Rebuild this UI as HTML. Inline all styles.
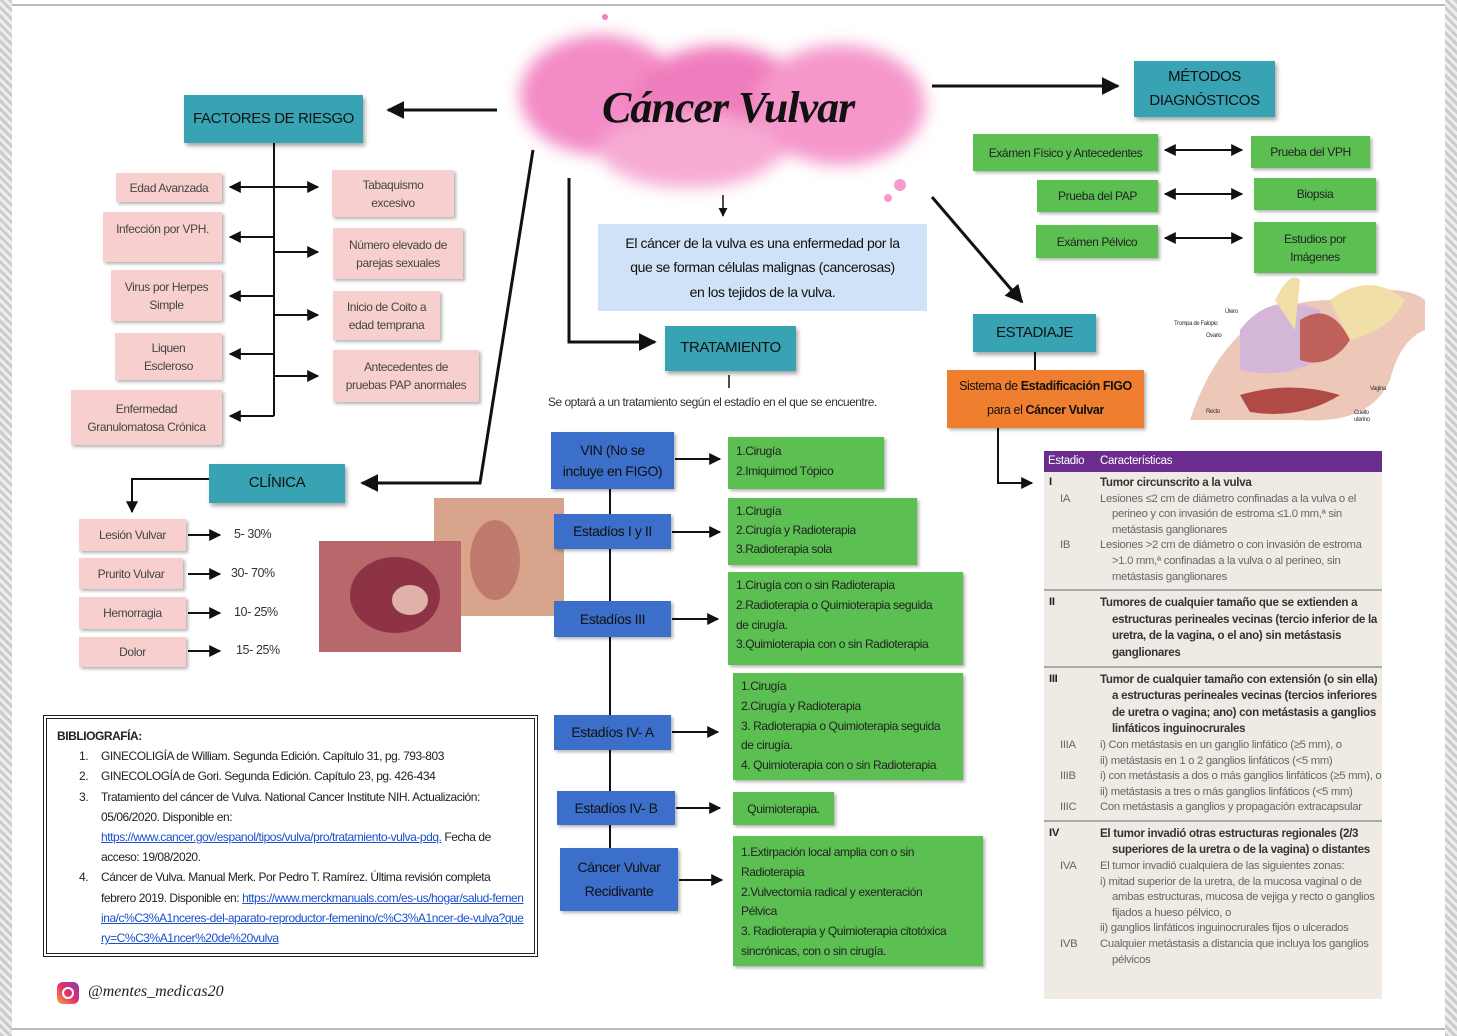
<!DOCTYPE html>
<html><head><meta charset="utf-8"><style>
*{box-sizing:border-box;margin:0;padding:0}
body{width:1457px;height:1036px;position:relative;background:#fff;overflow:hidden;font-family:"Liberation Sans",sans-serif;color:#222;letter-spacing:-0.4px}
.b{position:absolute;display:flex;align-items:center;justify-content:center;text-align:center;line-height:1.5}
.t{background:#38a3b2;color:#111;font-size:15px;box-shadow:2px 3px 4px rgba(0,0,0,.35)}
.p{background:#f8cfcf;font-size:12px;color:#444;box-shadow:2px 2px 3px rgba(0,0,0,.3)}
.g{background:#5cbf52;font-size:12px;color:#222;box-shadow:2px 2px 3px rgba(0,0,0,.3)}
.gl{justify-content:flex-start;text-align:left;padding-left:8px;align-items:flex-start;padding-top:4px;line-height:1.6}
.bl{background:#3c6fc9;color:#111;font-size:14px;box-shadow:2px 2px 3px rgba(0,0,0,.3)}
.a{position:absolute;font-size:12.5px;color:#333}
svg{position:absolute;left:0;top:0}
.tb{position:absolute;left:1044px;top:451px;width:338px;height:548px;background:#efebe4;font-family:"Liberation Sans",sans-serif;font-size:11.3px;color:#666;line-height:15.6px;letter-spacing:-0.3px}
.tb .r{position:relative;padding-left:56px}
.tb .k{position:absolute;left:16px}
.tb .K{position:absolute;left:5px;color:#222;font-weight:bold}
.tb b{color:#333;font-size:11.6px}
.tb .hr{border-top:2px solid #aaa;margin:4px 0}
.ind{padding-left:68px!important;text-indent:-12px}
</style></head><body>
<div style="position:absolute;left:0;top:0;width:12px;height:1036px;background:repeating-linear-gradient(45deg,#ccc 0 3px,#eee 3px 6px)"></div>
<div style="position:absolute;right:0;top:0;width:12px;height:1036px;background:repeating-linear-gradient(45deg,#ccc 0 3px,#eee 3px 6px)"></div>
<div style="position:absolute;left:12px;right:12px;top:4px;height:2px;background:#bbb"></div>
<div style="position:absolute;left:12px;right:12px;bottom:6px;height:2px;background:#bbb"></div>

<svg width="1457" height="1036">
<defs><filter id="bl"><feGaussianBlur stdDeviation="8"/></filter></defs>
<g filter="url(#bl)" opacity=".9">
<ellipse cx="600" cy="95" rx="80" ry="60" fill="#f27fc0"/>
<ellipse cx="720" cy="110" rx="90" ry="65" fill="#ee6fb6"/>
<ellipse cx="840" cy="105" rx="85" ry="60" fill="#f48cc6"/>
<ellipse cx="690" cy="150" rx="90" ry="38" fill="#f6a2cf"/>
</g>
<circle cx="605" cy="17" r="3" fill="#f27fc0"/><circle cx="900" cy="185" r="6" fill="#f49bcc"/><circle cx="888" cy="198" r="4" fill="#f49bcc"/>
</svg>
<div class="a" style="left:602px;top:82px;font-family:'Liberation Serif',serif;font-style:italic;font-weight:bold;font-size:44px;color:#111;letter-spacing:-1px">Cáncer Vulvar</div>

<svg width="1457" height="1036">
<defs><marker id="m" viewBox="0 0 10 10" refX="9" refY="5" markerWidth="6" markerHeight="6" orient="auto-start-reverse"><path d="M0,0L10,5L0,10z" fill="#111"/></marker></defs>
<g stroke="#111" stroke-width="2" fill="none">
<line x1="497" y1="110" x2="388" y2="110" stroke-width="3" marker-end="url(#m)"/>
<line x1="932" y1="86" x2="1118" y2="86" stroke-width="3" marker-end="url(#m)"/>
<polyline points="533,150 480,483 362,483" stroke-width="3" marker-end="url(#m)"/>
<line x1="932" y1="197" x2="1022" y2="302" stroke-width="3" marker-end="url(#m)"/>
<polyline points="569,178 569,342 655,342" stroke-width="3" marker-end="url(#m)"/>
<line x1="723" y1="195" x2="723" y2="216" stroke-width="1.5" marker-end="url(#m)"/>
<line x1="729" y1="375" x2="729" y2="388" stroke-width="1.5"/>
<line x1="274" y1="143" x2="274" y2="416"/>
<line x1="274" y1="187" x2="230" y2="187" marker-end="url(#m)"/><line x1="274" y1="187" x2="318" y2="187" marker-end="url(#m)"/>
<line x1="274" y1="237" x2="230" y2="237" marker-end="url(#m)"/><line x1="274" y1="252" x2="318" y2="252" marker-end="url(#m)"/>
<line x1="274" y1="296" x2="230" y2="296" marker-end="url(#m)"/><line x1="274" y1="315" x2="318" y2="315" marker-end="url(#m)"/>
<line x1="274" y1="354" x2="230" y2="354" marker-end="url(#m)"/><line x1="274" y1="376" x2="318" y2="376" marker-end="url(#m)"/>
<line x1="274" y1="416" x2="230" y2="416" marker-end="url(#m)"/>
<polyline points="209,479 132,479 132,512" marker-end="url(#m)"/>
<line x1="188" y1="535" x2="220" y2="535" marker-end="url(#m)"/>
<line x1="188" y1="574" x2="220" y2="574" marker-end="url(#m)"/>
<line x1="188" y1="613" x2="220" y2="613" marker-end="url(#m)"/>
<line x1="188" y1="651" x2="220" y2="651" marker-end="url(#m)"/>
<line x1="1165" y1="150" x2="1242" y2="150" marker-start="url(#m)" marker-end="url(#m)"/>
<line x1="1165" y1="194" x2="1242" y2="194" marker-start="url(#m)" marker-end="url(#m)"/>
<line x1="1165" y1="238" x2="1242" y2="238" marker-start="url(#m)" marker-end="url(#m)"/>
<line x1="1035" y1="352" x2="1035" y2="370"/>
<polyline points="998,428 998,483 1032,483" marker-end="url(#m)"/>
<line x1="610" y1="489" x2="610" y2="880"/>
<line x1="675" y1="459" x2="720" y2="459" marker-end="url(#m)"/>
<line x1="672" y1="532" x2="720" y2="532" marker-end="url(#m)"/>
<line x1="672" y1="619" x2="718" y2="619" marker-end="url(#m)"/>
<line x1="672" y1="732" x2="718" y2="732" marker-end="url(#m)"/>
<line x1="676" y1="808" x2="720" y2="808" marker-end="url(#m)"/>
<line x1="679" y1="880" x2="722" y2="880" marker-end="url(#m)"/>
</g>
<g>
<path d="M1190,420 Q1230,300 1330,300 Q1400,280 1425,300 L1425,330 Q1400,340 1390,380 Q1370,425 1300,420 Z" fill="#edc8b8"/>
<path d="M1240,330 Q1270,290 1320,310 L1320,360 Q1280,380 1240,370Z" fill="#d3b6d8"/>
<path d="M1300,320 Q1330,300 1350,340 Q1330,370 1300,360Z" fill="#c0605a"/>
<path d="M1240,395 Q1290,380 1340,395 Q1300,420 1250,412Z" fill="#b04a45"/>
<path d="M1330,300 Q1370,270 1405,300 Q1390,330 1350,340Z" fill="#f0e0a8"/>
<path d="M1275,300 Q1290,270 1300,280 L1295,330Z" fill="#f0e0a8"/>
</g>
<g font-family="Liberation Sans,sans-serif" font-size="6" fill="#333">
<text x="1225" y="313">Útero</text><text x="1174" y="325">Trompa de Falopio</text><text x="1206" y="337">Ovario</text>
<text x="1370" y="390">Vagina</text><text x="1206" y="413">Recto</text><text x="1354" y="414">Cuello</text><text x="1354" y="421">uterino</text>
</g>
<rect x="434" y="498" width="130" height="118" fill="#d9a48c"/>
<ellipse cx="495" cy="560" rx="25" ry="40" fill="#c07a6d"/>
<rect x="319" y="541" width="142" height="111" fill="#b8676b"/>
<ellipse cx="395" cy="595" rx="45" ry="38" fill="#8e3346"/>
<ellipse cx="410" cy="600" rx="18" ry="15" fill="#e0b1a8"/>
</svg>

<div class="b t" style="left:184px;top:95px;width:179px;height:48px">FACTORES DE RIESGO</div>
<div class="b t" style="left:1134px;top:61px;width:141px;height:56px;line-height:1.6">MÉTODOS<br>DIAGNÓSTICOS</div>
<div class="b t" style="left:665px;top:326px;width:131px;height:45px">TRATAMIENTO</div>
<div class="b t" style="left:973px;top:314px;width:123px;height:38px">ESTADIAJE</div>
<div class="b t" style="left:209px;top:464px;width:136px;height:39px">CLÍNICA</div>

<div class="b p" style="left:116px;top:173px;width:106px;height:29px">Edad Avanzada</div>
<div class="b p" style="left:103px;top:212px;width:119px;height:50px;align-items:flex-start;padding-top:8px">Infección por VPH.</div>
<div class="b p" style="left:111px;top:270px;width:111px;height:51px">Virus por Herpes<br>Simple</div>
<div class="b p" style="left:115px;top:333px;width:107px;height:47px">Liquen<br>Escleroso</div>
<div class="b p" style="left:71px;top:390px;width:151px;height:55px">Enfermedad<br>Granulomatosa Crónica</div>
<div class="b p" style="left:332px;top:170px;width:122px;height:47px">Tabaquismo<br>excesivo</div>
<div class="b p" style="left:333px;top:228px;width:130px;height:51px">Número elevado de<br>parejas sexuales</div>
<div class="b p" style="left:333px;top:291px;width:107px;height:49px">Inicio de Coito a<br>edad temprana</div>
<div class="b p" style="left:333px;top:350px;width:146px;height:52px">Antecedentes de<br>pruebas PAP anormales</div>

<div class="b p" style="left:79px;top:519px;width:107px;height:32px">Lesión Vulvar</div>
<div class="b p" style="left:79px;top:558px;width:104px;height:31px">Prurito Vulvar</div>
<div class="b p" style="left:79px;top:597px;width:107px;height:32px">Hemorragia</div>
<div class="b p" style="left:79px;top:637px;width:107px;height:30px">Dolor</div>
<div class="a" style="left:234px;top:527px">5- 30%</div>
<div class="a" style="left:231px;top:566px">30- 70%</div>
<div class="a" style="left:234px;top:605px">10- 25%</div>
<div class="a" style="left:236px;top:643px">15- 25%</div>

<div class="b g" style="left:973px;top:134px;width:185px;height:37px">Exámen Físico y Antecedentes</div>
<div class="b g" style="left:1037px;top:180px;width:121px;height:32px">Prueba del PAP</div>
<div class="b g" style="left:1036px;top:225px;width:122px;height:33px">Exámen Pélvico</div>
<div class="b g" style="left:1251px;top:136px;width:119px;height:32px">Prueba del VPH</div>
<div class="b g" style="left:1254px;top:178px;width:122px;height:32px">Biopsia</div>
<div class="b g" style="left:1254px;top:222px;width:122px;height:51px">Estudios por<br>Imágenes</div>

<div class="b" style="left:598px;top:224px;width:329px;height:87px;background:#cfe2f7;font-size:14px;color:#111;line-height:1.75">El cáncer de la vulva es una enfermedad por la<br>que se forman células malignas (cancerosas)<br>en los tejidos de la vulva.</div>
<div style="position:absolute;left:947px;top:370px;width:197px;height:58px;background:#ef7f2e;font-size:12.5px;color:#111;line-height:24px;padding-top:4px;text-align:center;box-shadow:2px 2px 3px rgba(0,0,0,.3)">Sistema de <b>Estadificación FIGO</b><br>para el <b>Cáncer Vulvar</b></div>
<div class="a" style="left:548px;top:395px;font-size:12px;letter-spacing:-0.5px">Se optará a un tratamiento según el estadío en el que se encuentre.</div>

<div class="b bl" style="left:551px;top:432px;width:123px;height:57px">VIN (No se<br>incluye en FIGO)</div>
<div class="b bl" style="left:554px;top:514px;width:117px;height:35px">Estadíos I y II</div>
<div class="b bl" style="left:554px;top:601px;width:117px;height:36px">Estadíos III</div>
<div class="b bl" style="left:554px;top:715px;width:117px;height:35px">Estadíos IV- A</div>
<div class="b bl" style="left:557px;top:791px;width:118px;height:34px">Estadíos IV- B</div>
<div class="b bl" style="left:560px;top:848px;width:118px;height:63px;line-height:1.7">Cáncer Vulvar<br>Recidivante</div>

<div class="b g gl" style="left:728px;top:437px;width:156px;height:52px;line-height:1.7">1.Cirugía<br>2.Imiquimod Tópico</div>
<div class="b g gl" style="left:728px;top:498px;width:189px;height:67px;line-height:1.6">1.Cirugía<br>2.Cirugía y Radioterapia<br>3.Radioterapia sola</div>
<div class="b g gl" style="left:728px;top:572px;width:235px;height:93px;line-height:1.65">1.Cirugía con o sin Radioterapia<br>2.Radioterapia o Quimioterapia seguida<br>de cirugía.<br>3.Quimioterapia con o sin Radioterapia</div>
<div class="b g gl" style="left:733px;top:673px;width:230px;height:107px;line-height:1.65">1.Cirugía<br>2.Cirugía y Radioterapia<br>3. Radioterapia o Quimioterapia seguida<br>de cirugía.<br>4. Quimioterapia con o sin Radioterapia</div>
<div class="b g" style="left:733px;top:792px;width:101px;height:33px">Quimioterapia.</div>
<div class="b g gl" style="left:733px;top:836px;width:250px;height:130px;line-height:1.65;padding-top:7px">1.Extirpación local amplia con o sin<br>Radioterapia<br>2.Vulvectomía radical y exenteración<br>Pélvica<br>3. Radioterapia y Quimioterapia citotóxica<br>sincrónicas, con o sin cirugía.</div>

<div style="position:absolute;left:43px;top:715px;width:495px;height:242px;border:4px double #222;padding:7px 10px;font-size:12px;line-height:20.2px;color:#222;letter-spacing:-0.45px">
<div style="font-weight:bold">BIBLIOGRAFÍA:</div>
<div style="padding-left:44px;position:relative"><span style="position:absolute;left:22px">1.</span>GINECOLIGÍA de William. Segunda Edición. Capítulo 31, pg. 793-803</div>
<div style="padding-left:44px;position:relative"><span style="position:absolute;left:22px">2.</span>GINECOLOGÍA de Gori. Segunda Edición. Capítulo 23, pg. 426-434</div>
<div style="padding-left:44px;position:relative"><span style="position:absolute;left:22px">3.</span>Tratamiento del cáncer de Vulva. National Cancer Institute NIH. Actualización: 05/06/2020. Disponible en: <span style="color:#1a4fd0;text-decoration:underline">https://www.cancer.gov/espanol/tipos/vulva/pro/tratamiento-vulva-pdq.</span> Fecha de acceso: 19/08/2020.</div>
<div style="padding-left:44px;position:relative"><span style="position:absolute;left:22px">4.</span>Cáncer de Vulva. Manual Merk. Por Pedro T. Ramírez. Última revisión completa febrero 2019. Disponible en: <span style="color:#1a4fd0;text-decoration:underline;word-break:break-all">https://www.merckmanuals.com/es-us/hogar/salud-femenina/c%C3%A1nceres-del-aparato-reproductor-femenino/c%C3%A1ncer-de-vulva?query=C%C3%A1ncer%20de%20vulva</span></div>
</div>

<div style="position:absolute;left:57px;top:982px;width:22px;height:22px;border-radius:6px;background:linear-gradient(45deg,#f9a13a,#e1306c,#833ab4)"><div style="position:absolute;left:5px;top:5px;width:12px;height:12px;border:2px solid #fff;border-radius:50%"></div></div>
<div class="a" style="left:88px;top:983px;font-family:'Liberation Serif',serif;font-style:italic;font-size:16px;color:#222;letter-spacing:0">@mentes_medicas20</div>

<div class="tb">
<div style="background:#6b2d8d;color:#fff;height:21px;line-height:21px;font-size:11.5px;position:relative"><span style="position:absolute;left:4px">Estadio</span><span style="position:absolute;left:56px">Características</span></div>
<div class="r" style="margin-top:3px"><span class="K">I</span><b>Tumor circunscrito a la vulva</b></div>
<div class="r ind"><span class="k" style="text-indent:0">IA</span>Lesiones ≤2 cm de diámetro confinadas a la vulva o el perineo y con invasión de estroma ≤1.0 mm,ª sin metástasis ganglionares</div>
<div class="r ind"><span class="k" style="text-indent:0">IB</span>Lesiones &gt;2 cm de diámetro o con invasión de estroma &gt;1.0 mm,ª confinadas a la vulva o al perineo, sin metástasis ganglionares</div>
<div class="hr"></div>
<div class="r ind"><span class="K" style="text-indent:0">II</span><b>Tumores de cualquier tamaño que se extienden a estructuras perineales vecinas (tercio inferior de la uretra, de la vagina, o el ano) sin metástasis ganglionares</b></div>
<div class="hr"></div>
<div class="r ind"><span class="K" style="text-indent:0">III</span><b>Tumor de cualquier tamaño con extensión (o sin ella) a estructuras perineales vecinas (tercios inferiores de uretra o vagina; ano) con metástasis a ganglios linfáticos inguinocrurales</b></div>
<div class="r ind"><span class="k" style="text-indent:0">IIIA</span>i) Con metástasis en un ganglio linfático (≥5 mm), o</div>
<div class="r ind">ii) metástasis en 1 o 2 ganglios linfáticos (&lt;5 mm)</div>
<div class="r ind"><span class="k" style="text-indent:0">IIIB</span>i) con metástasis a dos o más ganglios linfáticos (≥5 mm), o</div>
<div class="r ind">ii) metástasis a tres o más ganglios linfáticos (&lt;5 mm)</div>
<div class="r"><span class="k">IIIC</span>Con metástasis a ganglios y propagación extracapsular</div>
<div class="hr"></div>
<div class="r ind"><span class="K" style="text-indent:0">IV</span><b>El tumor invadió otras estructuras regionales (2/3 superiores de la uretra o de la vagina) o distantes</b></div>
<div class="r"><span class="k">IVA</span>El tumor invadió cualquiera de las siguientes zonas:</div>
<div class="r ind">i) mitad superior de la uretra, de la mucosa vaginal o de ambas estructuras, mucosa de vejiga y recto o ganglios fijados a hueso pélvico, o</div>
<div class="r ind">ii) ganglios linfáticos inguinocrurales fijos o ulcerados</div>
<div class="r ind"><span class="k" style="text-indent:0">IVB</span>Cualquier metástasis a distancia que incluya los ganglios pélvicos</div>
</div>
</body></html>
